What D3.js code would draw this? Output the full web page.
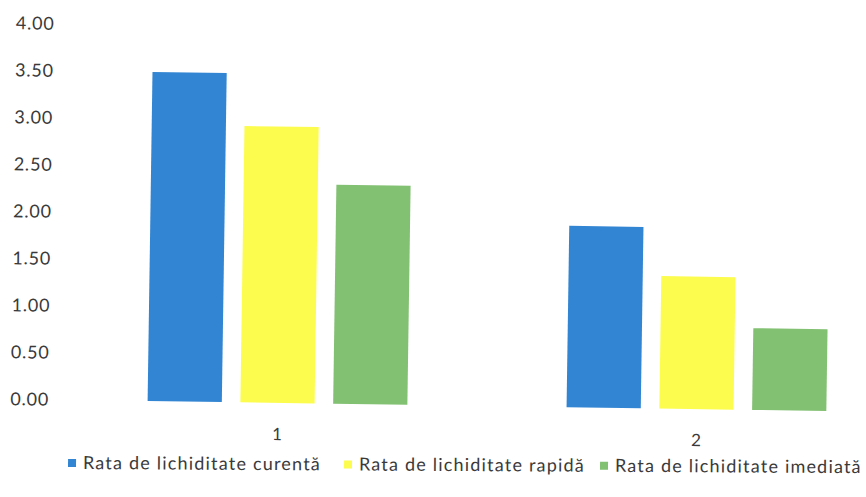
<!DOCTYPE html>
<html>
<head>
<meta charset="utf-8">
<script src="https://cdn.jsdelivr.net/npm/d3@7/dist/d3.min.js"></script>
<style>
  html, body { margin: 0; padding: 0; background: #ffffff; }
  svg { display: block; }
  text { font-family: Lato, "Open Sans", sans-serif; fill: #3a3a3a; }
</style>
</head>
<body>
<svg id="chart" width="866" height="497"></svg>
<script>
// Liquidity ratios for two periods
const categories = ["1", "2"];
const seriesNames = [
  "Rata de lichiditate curentă",
  "Rata de lichiditate rapidă",
  "Rata de lichiditate imediată"
];
const currentRatio   = [3.50, 1.93];
const quickRatio     = [2.94, 1.41];
const immediateRatio = [2.33, 0.87];
const yTicks = [0, 0.5, 1, 1.5, 2, 2.5, 3, 3.5, 4];
const colors = ["#3185d2", "#fcfc4e", "#82c072"];

const seriesValues = [currentRatio, quickRatio, immediateRatio];
const rows = categories.map((c, i) => ({
  category: c,
  values: seriesNames.map((s, j) => ({ series: s, value: seriesValues[j][i] }))
}));

const svg = d3.select("#chart");
// the sheet sits slightly tilted
const g = svg.append("g").attr("transform", "rotate(0.85,150,401)");

const y = d3.scaleLinear().domain([0, 4]).range([401, 25]);
const x0 = d3.scaleBand().domain(categories).range([68, 906])
  .paddingInner(0.38).paddingOuter(0.19);
const x1 = d3.scaleBand().domain(seriesNames).range([0, x0.bandwidth()])
  .paddingInner(0.2);
const color = d3.scaleOrdinal().domain(seriesNames).range(colors);

// value axis labels (no line, no tick marks)
const yAxis = g.append("g").attr("transform", "translate(49,0)")
  .call(d3.axisLeft(y).tickValues(yTicks).tickFormat(d3.format(".2f")).tickSize(0).tickPadding(0));
yAxis.select(".domain").remove();
yAxis.selectAll("text").attr("font-size", 18).attr("letter-spacing", 0.8)
  .style("font-family", "Lato, sans-serif").attr("fill", "#3a3a3a");

// bars
const groups = g.selectAll("g.cat").data(rows).join("g")
  .attr("class", "cat")
  .attr("transform", d => `translate(${x0(d.category)},0)`);
groups.selectAll("rect").data(d => d.values).join("rect")
  .attr("x", d => x1(d.series))
  .attr("width", x1.bandwidth())
  .attr("y", d => y(d.value))
  .attr("height", d => y(0) - y(d.value))
  .attr("fill", d => color(d.series));

// category labels
const xAxis = g.append("g").attr("transform", `translate(0,${y(0)})`)
  .call(d3.axisBottom(x0).tickSize(0).tickPadding(25));
xAxis.select(".domain").remove();
xAxis.selectAll("text").attr("font-size", 17).style("font-family", "Lato, sans-serif")
  .attr("fill", "#3a3a3a");

// legend
const legendX = [68, 344, 600];
const legend = svg.append("g").attr("transform", "translate(0,469) rotate(0.3,69,0)");
const items = legend.selectAll("g").data(seriesNames).join("g")
  .attr("transform", (d, i) => `translate(${legendX[i]},0)`);
items.append("rect").attr("x", 0).attr("y", -10).attr("width", 8).attr("height", 8)
  .attr("fill", d => color(d));
items.append("text").attr("x", 15).attr("y", 0).attr("font-size", 18)
  .attr("letter-spacing", 1.2)
  .text(d => d);
</script>
</body>
</html>
